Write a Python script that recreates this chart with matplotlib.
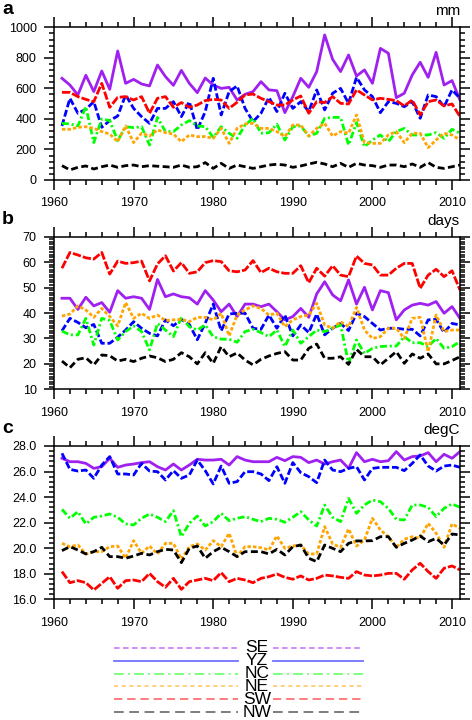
import matplotlib
matplotlib.use("Agg")
import matplotlib.pyplot as plt
from matplotlib.ticker import MultipleLocator, FormatStrFormatter
from matplotlib.lines import Line2D

plt.rcParams['font.family'] = ['Liberation Sans', 'DejaVu Sans']
plt.rcParams['lines.scale_dashes'] = False

years = list(range(1961, 2012))
regions = ["SE", "YZ", "NC", "NE", "SW", "NW"]

# Panel a: precipitation (mm)
pr_SE = [666, 622, 557, 686, 579, 714, 594, 845, 633, 659, 629, 616, 753, 677, 620, 718, 633, 572, 668, 622, 600, 607,
         524, 561, 579, 644, 590, 585, 441, 546, 666, 607, 710, 950, 790, 710, 819, 681, 721, 633, 862, 830,
         539, 568, 688, 771, 672, 836, 622, 651, 524]
pr_YZ = [354, 535, 437, 463, 513, 345, 389, 419, 557, 469, 415, 371, 469, 469, 513, 415, 513, 328, 448, 666, 426, 579,
         616, 469, 382, 437, 541, 448, 568, 469, 513, 448, 590, 459, 568, 600, 502, 672, 590, 546, 441, 513,
         502, 480, 513, 404, 557, 546, 480, 590, 535]
pr_NC = [371, 367, 354, 480, 245, 400, 389, 258, 349, 343, 349, 229, 410, 317, 317, 360, 389, 354, 349, 279, 349, 306,
         273, 360, 404, 306, 310, 365, 262, 349, 354, 288, 306, 404, 410, 410, 229, 376, 218, 262, 295, 251,
         317, 338, 295, 295, 295, 310, 273, 332, 306]
pr_NE = [332, 332, 345, 349, 338, 317, 301, 251, 354, 245, 306, 288, 328, 310, 301, 251, 295, 284, 284, 273, 338, 240,
         338, 367, 371, 338, 338, 317, 284, 360, 360, 288, 338, 371, 288, 317, 306, 426, 245, 240, 240, 295,
         317, 245, 306, 306, 212, 262, 306, 295, 262]
pr_SW = [574, 574, 546, 528, 513, 633, 476, 541, 546, 524, 546, 437, 535, 546, 476, 507, 476, 491, 520, 528, 524, 469,
         509, 557, 563, 535, 513, 491, 491, 524, 550, 437, 513, 507, 546, 502, 498, 590, 557, 524, 535, 528,
         520, 485, 524, 426, 513, 524, 485, 498, 415]
pr_NW = [94, 66, 83, 92, 72, 87, 98, 83, 94, 98, 87, 94, 90, 87, 83, 98, 83, 87, 114, 76, 109, 76,
         98, 87, 76, 87, 98, 103, 98, 83, 92, 105, 116, 105, 87, 109, 83, 109, 98, 94, 83, 98,
         98, 87, 105, 83, 114, 83, 76, 87, 98]

# Panel b: rain days
dy_SE = [45.8, 45.8, 41.4, 46.2, 42.8, 44.1, 40.3, 48.8, 45.8, 46.4, 45.8, 41.4, 53.2, 46.4, 47.5, 46.4, 46.0, 43.5, 48.8, 45.1, 40.5, 43.5,
         38.6, 43.5, 43.5, 42.5, 43.5, 40.5, 37.3, 38.6, 41.8, 38.3, 47.5, 52.3, 47.1, 44.8, 53.0, 43.5, 50.1, 41.2, 48.8, 48.0,
         37.3, 41.2, 43.1, 43.8, 43.1, 44.5, 39.9, 42.5, 37.9]
dy_YZ = [33.0, 37.9, 36.3, 34.2, 35.5, 28.1, 28.1, 30.5, 33.3, 36.6, 34.0, 32.0, 31.0, 37.3, 35.0, 37.5, 35.5, 29.5, 36.0, 43.5, 33.0, 39.6,
         39.9, 39.9, 34.0, 33.6, 39.2, 34.0, 39.2, 31.0, 35.3, 32.3, 39.6, 31.4, 34.0, 35.9, 33.1, 39.9, 38.6, 35.9, 33.3, 34.0,
         34.0, 33.6, 33.6, 31.0, 37.3, 37.5, 32.3, 35.9, 35.3]
dy_NC = [32.9, 31.4, 31.4, 37.9, 27.4, 37.9, 37.0, 29.4, 32.7, 34.9, 32.7, 25.5, 35.9, 33.3, 30.7, 38.3, 34.6, 33.3, 35.3, 30.7, 29.7, 29.7,
         28.5, 32.7, 33.6, 32.3, 30.7, 33.3, 26.8, 33.3, 28.1, 30.7, 33.3, 32.7, 34.0, 35.3, 20.2, 29.4, 24.1, 26.1, 26.8, 27.0,
         27.0, 30.7, 28.3, 28.3, 26.8, 30.0, 26.1, 26.8, 28.7]
dy_NE = [38.8, 39.6, 42.8, 41.2, 38.3, 41.8, 38.6, 34.9, 44.1, 37.9, 39.9, 37.9, 39.2, 37.0, 37.3, 37.5, 36.6, 38.3, 38.3, 37.3, 39.9, 31.0,
         39.2, 41.2, 42.8, 41.8, 39.2, 39.9, 34.6, 37.3, 38.6, 39.2, 43.8, 35.3, 34.0, 36.6, 34.6, 42.2, 33.3, 30.0, 30.7, 34.0,
         34.0, 30.0, 37.9, 38.3, 24.8, 39.2, 32.7, 33.3, 33.3]
dy_SW = [57.6, 63.8, 62.8, 61.7, 61.2, 63.8, 55.3, 60.4, 59.5, 59.8, 60.4, 52.6, 59.3, 62.5, 56.5, 59.8, 55.6, 56.2, 59.8, 60.6, 60.2, 56.6,
         56.2, 56.9, 60.6, 55.9, 57.6, 56.2, 55.6, 55.6, 58.6, 51.9, 57.6, 54.5, 58.6, 54.9, 54.3, 62.4, 59.5, 58.9, 54.9, 54.9,
         57.6, 59.5, 59.5, 49.7, 54.9, 57.2, 54.3, 56.6, 49.0]
dy_NW = [21.1, 18.5, 21.8, 22.4, 19.6, 23.5, 23.2, 21.1, 21.8, 20.9, 22.2, 23.1, 22.4, 20.9, 21.8, 24.4, 22.8, 20.0, 24.4, 20.2, 26.8, 22.8,
         24.3, 21.5, 19.6, 21.8, 23.1, 24.1, 24.8, 21.5, 21.5, 26.1, 27.8, 22.2, 22.2, 22.8, 19.8, 25.7, 22.8, 22.8, 19.6, 22.2,
         24.8, 20.2, 23.9, 22.2, 23.9, 20.0, 20.0, 21.3, 22.8]

# Panel c: temperature (degC)
tc_SE = [27.04, 26.77, 26.77, 26.64, 26.25, 26.38, 27.04, 26.33, 26.51, 26.59, 26.70, 26.77, 26.38, 26.12, 26.59, 26.12, 26.51, 26.96, 26.90, 26.90, 26.96, 26.51,
         27.17, 26.90, 26.77, 26.77, 26.77, 27.11, 26.85, 27.17, 27.11, 26.70, 26.90, 26.59, 26.77, 26.90, 26.25, 27.48, 26.77, 26.96, 26.77, 26.85,
         27.56, 26.90, 27.17, 27.22, 27.48, 26.77, 27.35, 27.04, 27.56]
tc_YZ = [27.43, 26.17, 26.04, 26.12, 25.47, 26.51, 27.17, 25.81, 25.81, 25.73, 26.64, 26.04, 25.99, 25.34, 26.07, 25.47, 25.73, 26.90, 26.07, 25.03, 26.43, 25.08,
         25.21, 25.99, 25.99, 25.81, 25.29, 26.38, 25.08, 26.70, 25.91, 25.60, 25.13, 26.90, 26.12, 25.99, 26.25, 26.38, 25.34, 26.25, 26.33, 26.33,
         26.33, 26.07, 26.64, 27.30, 26.43, 26.04, 26.43, 26.51, 26.33]
tc_NC = [23.04, 22.34, 22.86, 21.90, 22.42, 22.52, 22.68, 22.42, 21.90, 21.82, 22.34, 22.68, 22.42, 22.08, 22.94, 20.90, 21.95, 22.52, 21.74, 22.08, 22.73, 22.16,
         22.34, 22.47, 22.26, 22.08, 22.34, 22.26, 22.03, 22.42, 22.86, 22.21, 21.74, 23.38, 22.42, 22.08, 23.90, 22.73, 23.38, 23.77, 23.64, 23.12,
         22.26, 22.21, 23.38, 23.38, 23.20, 22.47, 23.12, 23.46, 23.20]
tc_NE = [20.38, 20.12, 20.25, 19.55, 19.73, 19.73, 20.12, 20.17, 19.21, 20.59, 19.60, 20.17, 19.55, 20.38, 20.38, 19.13, 20.12, 20.33, 19.86, 20.59, 20.12, 21.17,
         19.34, 20.12, 20.12, 20.04, 19.86, 20.96, 19.99, 20.17, 20.25, 19.55, 19.55, 21.69, 20.33, 20.07, 21.51, 20.17, 20.64, 22.34, 21.43, 20.90,
         20.07, 20.70, 20.90, 20.77, 21.95, 21.17, 20.07, 21.90, 21.56]
tc_SW = [18.17, 17.30, 17.46, 17.30, 16.73, 17.25, 17.77, 16.86, 17.46, 17.51, 17.38, 18.03, 17.38, 16.94, 17.64, 16.78, 17.38, 17.51, 17.64, 17.46, 18.09, 17.38,
         17.64, 17.51, 17.30, 17.64, 17.77, 17.98, 17.72, 17.57, 17.83, 17.51, 17.64, 17.90, 17.83, 17.72, 17.64, 18.17, 17.90, 17.83, 17.90, 18.03,
         18.03, 17.57, 18.30, 18.82, 18.17, 17.64, 18.43, 18.61, 18.30]
tc_NW = [19.81, 20.12, 19.86, 19.55, 19.73, 20.07, 19.34, 19.34, 19.21, 19.39, 19.60, 19.47, 19.73, 19.91, 19.86, 18.87, 19.99, 20.17, 19.21, 19.73, 20.07, 19.73,
         19.34, 19.73, 19.73, 19.73, 19.55, 19.91, 19.47, 20.12, 20.25, 19.21, 18.95, 20.25, 19.99, 19.73, 20.38, 20.57, 20.57, 20.59, 20.90, 20.90,
         20.07, 20.38, 20.64, 20.96, 20.51, 20.77, 20.25, 21.11, 21.04]

colors = {"SE": "#A020F0", "YZ": "#0000FF", "NC": "#00FF00", "NE": "#FFA500", "SW": "#FF0000", "NW": "#000000"}
plot_dash = {"SE": None, "YZ": (5, 2), "NC": (5, 2, 1.5, 2), "NE": (2.5, 1.5), "SW": (6, 1.5), "NW": (5, 2.5)}
legend_dash = {"SE": (4, 2.5), "YZ": None, "NC": (7, 3, 1.5, 3), "NE": (3, 2.5), "SW": (6, 3.5), "NW": (7, 4)}
legend_col = {"SE": "#A020F0", "YZ": "#0000FF", "NC": "#00FF00", "NE": "#FFA500", "SW": "#FF0000", "NW": "#000000"}

panels = [
    ("a", "mm", {"SE": pr_SE, "YZ": pr_YZ, "NC": pr_NC, "NE": pr_NE, "SW": pr_SW, "NW": pr_NW},
     (0, 1000), 200, 40, "%d"),
    ("b", "days", {"SE": dy_SE, "YZ": dy_YZ, "NC": dy_NC, "NE": dy_NE, "SW": dy_SW, "NW": dy_NW},
     (10, 70), 10, 1, "%d"),
    ("c", "degC", {"SE": tc_SE, "YZ": tc_YZ, "NC": tc_NC, "NE": tc_NE, "SW": tc_SW, "NW": tc_NW},
     (16, 28), 2, 0.4, "%.1f"),
]

W, H = 472, 720
fig = plt.figure(figsize=(W / 100, H / 100), dpi=100)

axes_px = [(27.3, 180.0), (236.7, 389.3), (446.0, 599.3)]
left_px, right_px = 54, 460

for (letter, unit, data, ylim, major, minor, fmt), (top, bot) in zip(panels, axes_px):
    ax = fig.add_axes([left_px / W, 1 - bot / H, (right_px - left_px) / W, (bot - top) / H])
    for r in regions:
        kw = dict(color=colors[r], lw=2.0, solid_joinstyle="round")
        if plot_dash[r] is not None:
            kw["dashes"] = plot_dash[r]
        ax.plot(years, data[r], **kw)
    ax.set_xlim(1960, 2011)
    ax.set_ylim(*ylim)
    ax.xaxis.set_major_locator(MultipleLocator(10))
    ax.xaxis.set_minor_locator(MultipleLocator(2))
    ax.yaxis.set_major_locator(MultipleLocator(major))
    ax.yaxis.set_minor_locator(MultipleLocator(minor))
    ax.yaxis.set_major_formatter(FormatStrFormatter(fmt))
    ax.tick_params(which="both", direction="out", top=True, right=True, width=1.1, labelsize=9, pad=5.5)
    ax.tick_params(which="major", length=7)
    ax.tick_params(which="minor", length=3.5)
    for s in ax.spines.values():
        s.set_linewidth(1.1)
    fig.text(2 / W, 1 - (top - 9) / H, letter, fontsize=14, fontweight="bold", ha="left", va="bottom")
    fig.text(right_px / W, 1 - (top - 9) / H, unit, fontsize=11, ha="right", va="bottom")

# legend drawn below the panels
lax = fig.add_axes([0, 0, 1, 1])
lax.set_xlim(0, W)
lax.set_ylim(H, 0)
lax.axis("off")
row0, step = 647.7, 12.9
for i, r in enumerate(regions):
    y = row0 + i * step
    for x0, x1 in [(114, 238), (273, 363)]:
        kw = dict(color=legend_col[r], lw=1.3, alpha=0.55)
        if legend_dash[r] is not None:
            kw["dashes"] = legend_dash[r]
        lax.add_line(Line2D([x0, x1], [y, y], **kw))
    lax.text(257, y, r, fontsize=12.5, ha="center", va="center")

fig.savefig("out.png", dpi=100)
